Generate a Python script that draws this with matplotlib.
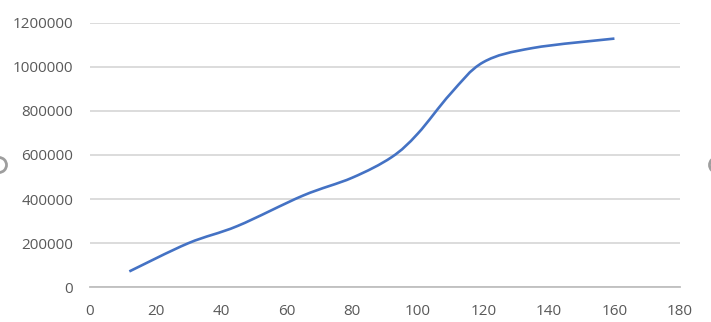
import matplotlib
matplotlib.use("Agg")
import matplotlib.pyplot as plt
import numpy as np
from matplotlib.path import Path
from matplotlib.patches import PathPatch, Circle

# --- data ------------------------------------------------------------------
x_vals = [12, 30, 45, 65, 80, 92, 100, 110, 120, 135, 160]
y_vals = [72000, 200000, 278000, 416000, 497000, 590000, 697000, 878000,
          1021000, 1085000, 1128000]

x_ticks = [0, 20, 40, 60, 80, 100, 120, 140, 160, 180]
y_ticks = [0, 200000, 400000, 600000, 800000, 1000000, 1200000]

LINE = "#4472C4"
GRID = "#D9D9D9"
TEXT = "#595959"

plt.rcParams["font.family"] = ["Open Sans", "DejaVu Sans"]


def smooth_path(xs, ys):
    """Excel-style smoothed line: cubic bezier segments through the points."""
    pts = np.column_stack([xs, ys]).astype(float)
    verts = [pts[0]]
    codes = [Path.MOVETO]
    n = len(pts)
    for i in range(n - 1):
        p0 = pts[i - 1] if i > 0 else pts[i]
        p1, p2 = pts[i], pts[i + 1]
        p3 = pts[i + 2] if i + 2 < n else pts[i + 1]
        c1 = p1 + (p2 - p0) / 6.0
        c2 = p2 - (p3 - p1) / 6.0
        verts += [c1, c2, p2]
        codes += [Path.CURVE4] * 3
    return Path(verts, codes)


fig = plt.figure(figsize=(7.11, 3.22), dpi=100)
ax = fig.add_axes([90 / 711, 1 - 287.3 / 322, 590 / 711, (287.3 - 22.7) / 322])

ax.add_patch(PathPatch(smooth_path(x_vals, y_vals), facecolor="none",
                       edgecolor=LINE, linewidth=1.9, capstyle="butt",
                       zorder=3))

ax.set_xlim(0, 180)
ax.set_ylim(0, 1200000)
ax.set_xticks(x_ticks)
ax.set_yticks(y_ticks)
ax.set_xticklabels([str(v) for v in x_ticks])
ax.set_yticklabels([str(v) for v in y_ticks])

ax.grid(axis="y", color=GRID, linewidth=1.3)
ax.set_axisbelow(True)
for side in ("top", "right", "left"):
    ax.spines[side].set_visible(False)
ax.spines["bottom"].set_color("#BFBFBF")
ax.spines["bottom"].set_linewidth(1.3)
ax.tick_params(axis="both", length=0, labelsize=11, labelcolor=TEXT)
ax.tick_params(axis="y", pad=12)
ax.tick_params(axis="x", pad=12)

# chart-area selection handles, cut by the image edges (display coords)
for cx in (-1, 717):
    fig.patches.append(Circle((cx, 322 - 165), 7.5, transform=None,
                              facecolor="white", edgecolor="#9E9E9E",
                              linewidth=2.0))

fig.savefig("out.png", dpi=100)
